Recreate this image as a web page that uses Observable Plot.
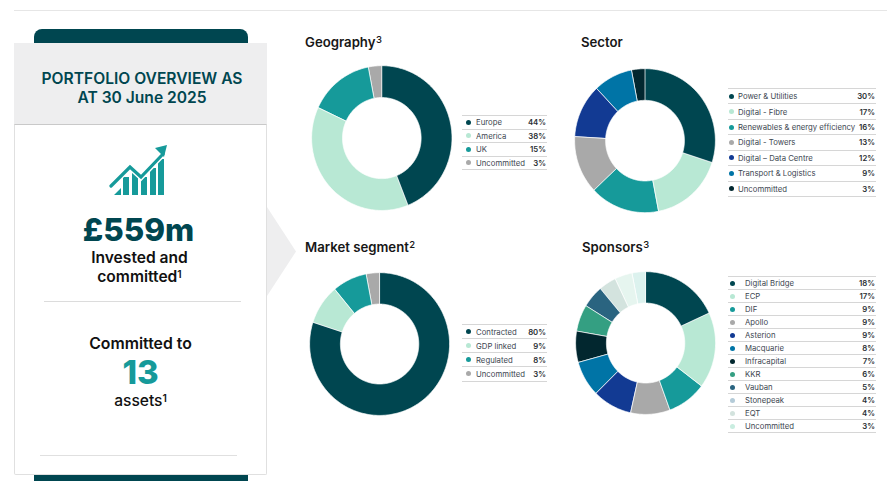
<!DOCTYPE html>
<html><head><meta charset="utf-8">
<script src="https://cdn.jsdelivr.net/npm/d3@7"></script>
<script src="https://cdn.jsdelivr.net/npm/@observablehq/plot@0.6"></script>
<style>
html,body{margin:0;padding:0;background:#fff;}
body{width:887px;height:481px;position:relative;overflow:hidden;font-family:Inter,"Noto Sans",sans-serif;color:#111;}
.abs{position:absolute;}
.c{position:absolute;text-align:center;white-space:nowrap;}
sup{font-size:.66em;line-height:0;vertical-align:baseline;position:relative;top:-.42em;font-weight:600;}
.title{position:absolute;font-size:13.2px;font-weight:600;line-height:16px;color:#171717;white-space:nowrap;}
.title sup{font-size:.72em;font-weight:500;margin-left:.5px;}
.row{position:absolute;left:0;right:0;border-top:1px solid #d6d6d6;box-sizing:border-box;font-size:7.75px;color:#3c4650;display:flex;align-items:center;}
.row b{position:absolute;right:1px;font-weight:600;color:#2a2f33;}
.row i{position:absolute;width:5px;height:5px;border-radius:50%;}
.row span{position:absolute;white-space:nowrap;}
.legend{position:absolute;border-bottom:1px solid #d6d6d6;box-sizing:border-box;}
</style></head><body>
<div id="root"></div>
<script>
const NAVY="#004650", MINT="#B8E8D4", TEAL="#169A9A", GREY="#A9A9A9", BLUE="#123A93", CERULEAN="#0074A6", INK="#02272F";

const geoLabels=["Europe","America","UK","Uncommitted"];
const geoValues=[44,38,15,3];
const geoColors=[NAVY,MINT,TEAL,GREY];

const sectorLabels=["Power & Utilities","Digital - Fibre","Renewables & energy efficiency","Digital - Towers","Digital – Data Centre","Transport & Logistics","Uncommitted"];
const sectorValues=[30,17,16,13,12,9,3];
const sectorColors=[NAVY,MINT,TEAL,GREY,BLUE,CERULEAN,INK];

const marketLabels=["Contracted","GDP linked","Regulated","Uncommitted"];
const marketValues=[80,9,8,3];
const marketColors=[NAVY,MINT,TEAL,GREY];

const sponsorLabels=["Digital Bridge","ECP","DIF","Apollo","Asterion","Macquarie","Infracapital","KKR","Vauban","Stonepeak","EQT","Uncommitted"];
const sponsorValues=[18,17,9,9,9,8,7,6,5,4,4,3];
const sponsorColors=[NAVY,MINT,TEAL,GREY,BLUE,CERULEAN,INK,"#349F82","#2A6480","#D3E3DE","#E6F5EF","#DCF2EE"];
const sponsorDots=[NAVY,MINT,TEAL,GREY,BLUE,CERULEAN,INK,"#349F82","#2A6480","#B4CBD8","#D3E3DE","#C9EDE0"];

const root=document.getElementById("root");
function add(css,html,cls){const d=document.createElement("div");d.className=cls||"abs";d.style.cssText=css;if(html)d.innerHTML=html;root.appendChild(d);return d;}

/* ---- left panel ---- */
add("left:14px;top:10px;width:873px;height:1px;background:#e6e6e6");
add("left:34px;top:29px;width:214px;height:16px;background:#004650;border-radius:8px 8px 0 0");
add("left:34px;top:470px;width:214px;height:11px;background:#004650");
add("left:267px;top:207px;width:29px;height:89px;background:#eeeeef;clip-path:polygon(0 0,100% 50%,0 100%)");
add("left:14px;top:43px;width:253px;height:81px;background:#eeeeef");
add("left:14px;top:124px;width:253px;height:351px;background:#fff;border:1px solid #e0e0e0;border-top:1px solid #c9c9c9;box-sizing:border-box;border-radius:0 0 2px 2px");
add("left:14px;width:256px;top:69px;font-size:15.6px;line-height:19px;font-weight:600;color:#004650","PORTFOLIO OVERVIEW AS<br>AT 30 June 2025","c");
add("left:109px;top:144px;width:60px;height:52px",`<svg width="60" height="52" viewBox="0 0 60 52">
<g fill="#169A9A"><path d="M5 51l7-7v7zM14 51V33h6v18zM23 51V28h6v23zM32 51V33h6v18zM41 51V24h6v27zM49 51V15h6v36z"/></g>
<path d="M2 42L21 23L32 33L54 10" fill="none" stroke="#fff" stroke-width="6"/>
<path d="M2 42L21 23L32 33L54 10" fill="none" stroke="#169A9A" stroke-width="3.2" stroke-linecap="round"/>
<path d="M58 1L46 4L55 13z" fill="#169A9A"/></svg>`);
add("left:12px;width:253px;top:210px;font-size:31.5px;line-height:40px;font-weight:800;color:#004650","£559m","c");
add("left:13px;width:253px;top:248px;font-size:15.6px;line-height:19px;font-weight:600;color:#111","Invested and<br>committed<sup>1</sup>","c");
add("left:44px;top:301px;width:197px;height:1px;background:#dcdcdc");
add("left:14px;width:253px;top:334px;font-size:15.8px;line-height:19px;font-weight:600;color:#111","Committed to","c");
add("left:14px;width:253px;top:357px;font-size:33px;line-height:31px;font-weight:800;color:#169A9A","13","c");
add("left:14px;width:253px;top:391px;font-size:15.6px;line-height:19px;font-weight:500;color:#111","assets<sup>1</sup>","c");
add("left:40px;top:455px;width:197px;height:1px;background:#e0e0e0");

/* ---- donuts ---- */
const HOLE=0.56, PAD=1.03;
function slices(labels,values){
  const total=d3.sum(values), pts=[]; let acc=0;
  labels.forEach((label,i)=>{
    const a0=acc/total*2*Math.PI, a1=(acc+values[i])/total*2*Math.PI; acc+=values[i];
    const angles=d3.range(a0,a1,Math.PI/180).concat(a1);
    angles.forEach(a=>pts.push({label,x:Math.sin(a),y:Math.cos(a)}));
    angles.slice().reverse().forEach(a=>pts.push({label,x:HOLE*Math.sin(a),y:HOLE*Math.cos(a)}));
  });
  return pts;
}
function donut(labels,values,colors,cx,cy,rx,ry){
  const w=2*rx*PAD,h=2*ry*PAD;
  const svg=Plot.plot({width:w,height:h,margin:0,
    x:{domain:[-PAD,PAD],axis:null},y:{domain:[-PAD,PAD],axis:null},
    color:{domain:labels,range:colors},
    style:{background:"transparent"},
    marks:[Plot.line(slices(labels,values),{x:"x",y:"y",z:"label",fill:"label",stroke:"#fff",strokeWidth:.7,curve:"linear-closed"})]});
  svg.style.cssText=`position:absolute;left:${cx-w/2}px;top:${cy-h/2}px;`;
  root.appendChild(svg);
}
function legend(labels,values,colors,left,width,top,bottom,textX,dotX){
  const n=labels.length,rowH=(bottom-top)/n;
  const L=add(`left:${left}px;top:${top}px;width:${width}px;height:${bottom-top+1}px`,"","legend");
  labels.forEach((t,i)=>{
    const r=document.createElement("div");r.className="row";
    r.style.cssText=`top:${i*rowH}px;height:${rowH}px;`;
    r.innerHTML=`<i style="left:${dotX}px;background:${colors[i]}"></i><span style="left:${textX}px">${t.replace("&","&amp;")}</span><b>${values[i]}%</b>`;
    L.appendChild(r);
  });
}
donut(geoLabels,geoValues,geoColors,381.3,138,70.2,72.4);
donut(sectorLabels,sectorValues,sectorColors,645,140,70.4,72);
donut(marketLabels,marketValues,marketColors,379.5,343.3,70,71.4);
donut(sponsorLabels,sponsorValues,sponsorColors,645.5,343,70,71.4);

add("left:305px;top:34px","Geography<sup>3</sup>","title");
add("left:581px;top:34px","Sector","title");
add("left:305px;top:239px","Market segment<sup>2</sup>","title");
add("left:582px;top:239px","Sponsors<sup>3</sup>","title");

legend(geoLabels,geoValues,geoColors,462,85,115,169,14,4);
legend(sectorLabels,sectorValues,sectorColors,728,148,88,196,10,1);
legend(marketLabels,marketValues,marketColors,462,85,324,380.5,14,4);
legend(sponsorLabels,sponsorValues,sponsorDots,728,148,276,432,17,2);
</script>
</body></html>
